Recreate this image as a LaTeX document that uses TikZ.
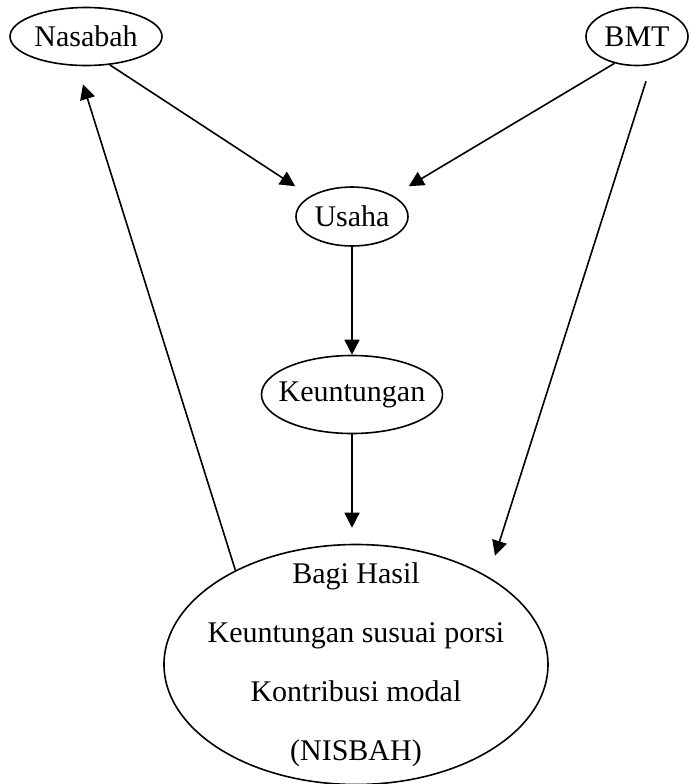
\documentclass[tikz,border=0pt]{standalone}
\usepackage{fontspec}
\setmainfont{Liberation Serif}
\usetikzlibrary{shapes.geometric, arrows.meta, positioning, calc}
\tikzstyle{oval} = [
  ellipse,
  inner sep=0pt,
  minimum width=56pt,
  minimum height=29pt,
  text centered,
  draw=black,
  thick,
  font=\fontsize{15}{29.5}\selectfont
]
\tikzstyle{arrow} = [thick, ->, >={Triangle[length=7.5pt,width=7.5pt]}]

\begin{document}
\begin{tikzpicture}[node distance=89pt]
    \useasboundingbox (-176pt,-283.75pt) rectangle (168.5pt,108.25pt);
    \node (usaha) [oval, minimum height=29.5pt] {Usaha};
    \node (nasabah) [oval, above of=usaha, xshift=-133pt, yshift=1pt, minimum width=76pt] {Nasabah};
    \node (bmt) [oval, above of=usaha, xshift=142.5pt, yshift=1pt, minimum width=51pt] {BMT};
    \node (keuntungan) [oval, below of=usaha, inner xsep=-5pt, minimum width=90.5pt, minimum height=39pt] {Keuntungan};
    \node (bagi-hasil) [oval, below of=keuntungan, xshift=2pt, yshift=-46pt, align=center, inner xsep=-7pt, inner ysep=-10pt, minimum width=192pt, minimum height=120pt] {Bagi Hasil\\Keuntungan susuai porsi\\Kontribusi modal\\(NISBAH)};

    \draw [arrow] (nasabah.-50) -- (usaha.north -| usaha.west);
    \draw [arrow] (bmt.-130) -- (usaha.north -| usaha.east);
    \draw [arrow] (usaha) -- (keuntungan);
    \draw [arrow, shorten >=8pt] (keuntungan) -- (keuntungan |- bagi-hasil.north);
    \draw [arrow] ($(bmt.south)+(4.5pt,-7.5pt)$) -- ($(bagi-hasil.north)+(69.5pt,-6pt)$);
    \draw [arrow] (bagi-hasil.142) -- ($(nasabah.south)+(-1.5pt,-9pt)$);
\end{tikzpicture}
\end{document}
